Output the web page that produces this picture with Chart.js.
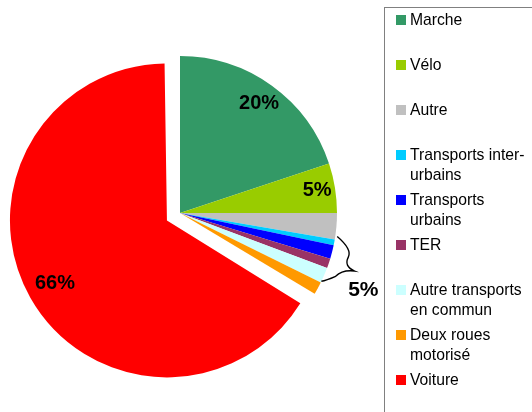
<!DOCTYPE html>
<html lang="fr">
<head>
<meta charset="utf-8">
<title>Parts modales</title>
<script src="https://cdn.jsdelivr.net/npm/chart.js@4.4.1/dist/chart.umd.min.js"></script>
<style>
  html, body { margin: 0; padding: 0; background: #fff; }
  #wrap   { position: relative; width: 532px; height: 412px; overflow: hidden;
            font-family: "Liberation Sans", Arial, sans-serif; }
  #chart-box { position: absolute; left: 0; top: 0; width: 385px; height: 412px; }
  #legend { position: absolute; left: 384px; top: 7px; width: 170px; height: 430px;
            border: 1px solid #808080; box-sizing: border-box; }
  .item   { position: absolute; left: 11px; width: 120px; padding-left: 14px;
            font-size: 15.7px; line-height: 20px; color: #000; }
  .item .sw { position: absolute; left: 0; top: 5px; width: 10px; height: 10px; }
</style>
</head>
<body>
<div id="wrap">
  <div id="chart-box"><canvas id="modes-chart"></canvas></div>
  <div id="legend"></div>
</div>

<script>
// ── Data ──────────────────────────────────────────────────────
const modes = ['Marche', 'Vélo', 'Autre', 'Transports inter-urbains', 'Transports urbains',
               'TER', 'Autre transports en commun', 'Deux roues motorisé', 'Voiture'];
const modeShare  = [19.9, 5.1, 2.7, 0.6, 1.4, 1.0, 1.6, 1.3, 66.4];
const modeColors = ['#339966', '#99cc00', '#c0c0c0', '#00ccff', '#0000ff',
                    '#993366', '#ccffff', '#ff9900', '#ff0000'];
const explode    = [0, 0, 0, 0, 0, 0, 0, 0, 60];   // Chart.js moves a slice by offset/4
const labelledSlices = [0, 1, 8];                 // slices carrying their own %
const bracketGroup   = [3, 6];                    // first / last slice under the brace

// ── Layout / style constants ─────────────────────────────────
const PIE_RADIUS   = 157;
const LABEL_RADIUS = [0.86, 0.885, 0.82];
const FONT = '"Liberation Sans", Arial, sans-serif';

const total = modeShare.reduce((a, b) => a + b, 0);
const pct   = v => Math.round(v / total * 100) + '%';

// ── Legend (HTML, built from the arrays) ─────────────────────
const legend = document.getElementById('legend');
modes.forEach((m, i) => {
  const el = document.createElement('div');
  el.className = 'item';
  el.style.top = (2 + i * 45) + 'px';
  el.innerHTML = `<span class="sw" style="background:${modeColors[i]}"></span>${m}`;
  legend.appendChild(el);
});

// ── Plugins ──────────────────────────────────────────────────
// keep an exploded slice at the same radius as the others
const keepRadius = {
  id: 'keepRadius',
  afterDatasetUpdate(chart, args) {
    args.meta.data.forEach(arc => {
      const off = (arc.options && arc.options.offset) || 0;
      if (off) arc.outerRadius -= off / 4;
    });
  },
};

const polar = (cx, cy, deg, r) => {
  const a = deg * Math.PI / 180;
  return [cx + Math.cos(a) * r, cy + Math.sin(a) * r];
};
const deg = rad => rad * 180 / Math.PI;

const sliceLabels = {
  id: 'sliceLabels',
  afterDatasetsDraw(chart) {
    const ctx  = chart.ctx;
    const arcs = chart.getDatasetMeta(0).data;
    ctx.save();
    ctx.fillStyle = '#000';
    ctx.textAlign = 'center';
    ctx.textBaseline = 'middle';
    ctx.font = `bold 20px ${FONT}`;

    labelledSlices.forEach((idx, k) => {
      const arc = arcs[idx];
      const mid = (arc.startAngle + arc.endAngle) / 2;
      const sh  = (arc.options.offset || 0) / 4;
      const cx  = arc.x + Math.cos(mid) * sh;
      const cy  = arc.y + Math.sin(mid) * sh;
      const r   = PIE_RADIUS * LABEL_RADIUS[k];
      ctx.fillText(pct(modeShare[idx]), cx + Math.cos(mid) * r, cy + Math.sin(mid) * r);
    });

    // brace round the small public-transport slices
    const first = arcs[bracketGroup[0]], last = arcs[bracketGroup[1]];
    const cx = first.x, cy = first.y, R = PIE_RADIUS;
    const a0 = deg(first.startAngle), a1 = deg(last.endAngle), am = (a0 + a1) / 2;
    const P = (d, r) => polar(cx, cy, d, r);

    ctx.beginPath();
    ctx.moveTo(...P(a0 - 1.2, R + 2));
    ctx.quadraticCurveTo(...P(a0 + 2.2, R + 19), ...P(a0 + (am - a0) * 0.6, R + 17));
    ctx.quadraticCurveTo(...P(am, R + 15), ...P(am + 0.4, R + 27));
    ctx.quadraticCurveTo(...P(am + 1.2, R + 15), ...P(am + (a1 - am) * 0.5, R + 11));
    ctx.quadraticCurveTo(...P(a1 - 1.5, R + 4), ...P(a1 - 0.5, R));
    ctx.lineWidth = 1.4;
    ctx.strokeStyle = '#000';
    ctx.stroke();

    const groupShare = modeShare.slice(bracketGroup[0], bracketGroup[1] + 1).reduce((a, b) => a + b, 0);
    ctx.font = `bold 21px ${FONT}`;
    ctx.fillText(pct(groupShare), ...P(a1 - 3.4, R + 42));
    ctx.restore();
  },
};

// ── Chart ────────────────────────────────────────────────────
Chart.defaults.font.family = FONT;

new Chart(document.getElementById('modes-chart').getContext('2d'), {
  type: 'pie',
  data: {
    labels: modes,
    datasets: [{
      data: modeShare,
      backgroundColor: modeColors,
      borderWidth: 0,
      offset: explode,
    }],
  },
  options: {
    responsive: true, maintainAspectRatio: false,
    animation: false,
    radius: PIE_RADIUS,
    layout: { padding: { left: 0, right: 25, top: 14, bottom: 0 } },
    plugins: {
      legend:  { display: false },
      tooltip: { enabled: false },
    },
  },
  plugins: [keepRadius, sliceLabels],
});
</script>
</body>
</html>
